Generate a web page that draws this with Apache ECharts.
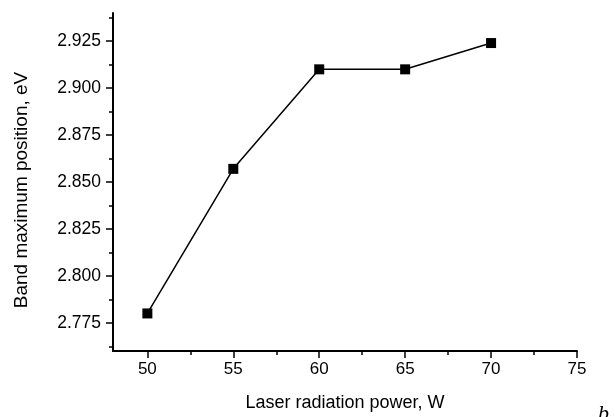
<!DOCTYPE html>
<html>
<head>
<meta charset="utf-8">
<script src="https://cdn.jsdelivr.net/npm/echarts@6/dist/echarts.min.js"></script>
<style>
  html, body { margin: 0; padding: 0; background: #fff; }
  #chart { width: 615px; height: 417px; }
</style>
</head>
<body>
<div id="chart"></div>
<script>
// laser power (W) vs band maximum position (eV)
var power = [50, 55, 60, 65, 70];
var bandMax = [2.780, 2.857, 2.910, 2.910, 2.924];

var xTicks = [50, 55, 60, 65, 70, 75];
var xMinorTicks = [52.5, 57.5, 62.5, 67.5, 72.5];
var yTicks = [2.775, 2.800, 2.825, 2.850, 2.875, 2.900, 2.925];
var yMinorTicks = [2.7625, 2.7875, 2.8125, 2.8375, 2.8625, 2.8875, 2.9125, 2.9375];

var font = 'Liberation Sans, Arial, sans-serif';

var chart = echarts.init(document.getElementById('chart'));

var option = {
    animation: false,
    grid: {left: 113, top: 13, right: 38, bottom: 64},
    xAxis: [
        {
            type: 'value',
            min: 48,
            max: 75,
            name: 'Laser radiation power, W',
            nameLocation: 'middle',
            nameGap: 43,
            nameTextStyle: {color: '#000', fontSize: 18, fontFamily: font},
            axisLine: {show: true, lineStyle: {color: '#000', width: 2}},
            axisTick: {show: true, length: 7, customValues: xTicks, lineStyle: {color: '#000', width: 1.5}},
            axisLabel: {customValues: xTicks, color: '#000', fontSize: 17, fontFamily: font, margin: 10},
            splitLine: {show: false}
        },
        {
            type: 'value',
            min: 48,
            max: 75,
            position: 'bottom',
            axisLine: {show: false},
            axisTick: {show: true, length: 4, customValues: xMinorTicks, lineStyle: {color: '#000', width: 1.5}},
            axisLabel: {show: false},
            splitLine: {show: false}
        }
    ],
    yAxis: [
        {
            type: 'value',
            min: 2.76,
            max: 2.94,
            name: 'Band maximum position, eV',
            nameLocation: 'middle',
            nameGap: 82,
            nameTextStyle: {color: '#000', fontSize: 19, fontFamily: font, padding: [0, 16, 0, 0]},
            axisLine: {show: true, lineStyle: {color: '#000', width: 2}},
            axisTick: {show: true, length: 7, customValues: yTicks, lineStyle: {color: '#000', width: 1.5}},
            axisLabel: {
                customValues: yTicks,
                color: '#000',
                fontSize: 17.5,
                fontFamily: font,
                margin: 12,
                formatter: function (v) { return v.toFixed(3); }
            },
            splitLine: {show: false}
        },
        {
            type: 'value',
            min: 2.76,
            max: 2.94,
            position: 'left',
            axisLine: {show: false},
            axisTick: {show: true, length: 4, customValues: yMinorTicks, lineStyle: {color: '#000', width: 1.5}},
            axisLabel: {show: false},
            splitLine: {show: false}
        }
    ],
    graphic: [
        {
            type: 'text',
            left: 598,
            top: 403,
            style: {text: 'b', fill: '#000', font: 'italic 22px "Liberation Serif", serif'}
        }
    ],
    series: [
        {
            type: 'line',
            data: power.map(function (p, i) { return [p, bandMax[i]]; }),
            symbol: 'rect',
            symbolSize: 10,
            itemStyle: {color: '#000'},
            lineStyle: {color: '#000', width: 1.5}
        }
    ]
};

chart.setOption(option);
</script>
</body>
</html>
